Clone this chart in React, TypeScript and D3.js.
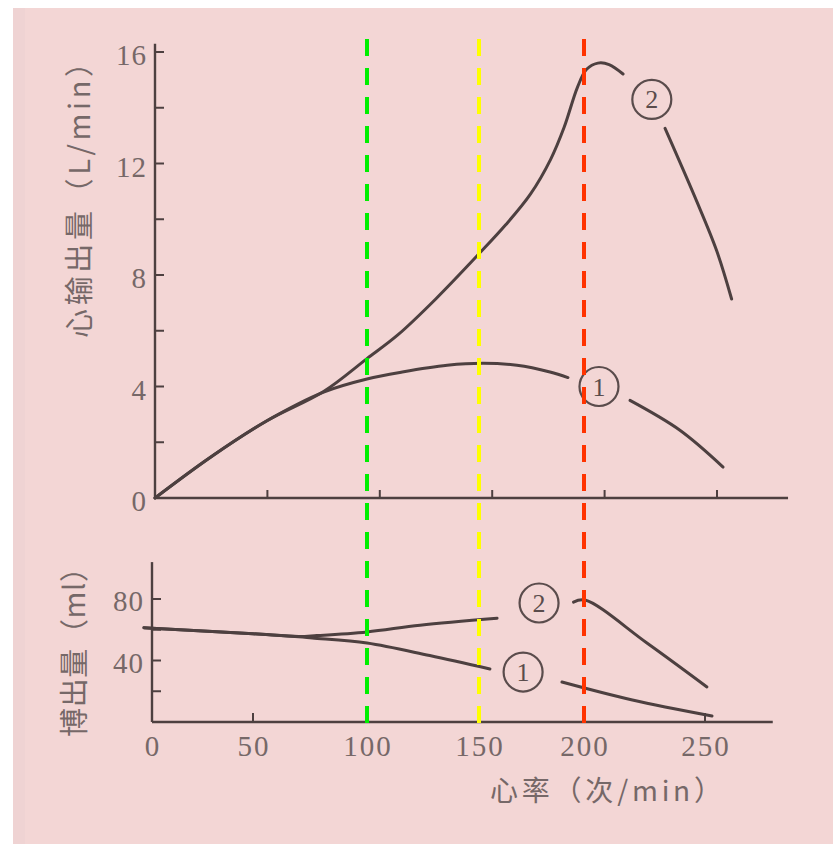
import React from 'react';
import * as d3 from 'd3';

const W = 833;
const H = 844;

// Axis ticks and labels
const rateTicks = [0, 50, 100, 150, 200, 250];
const outputTicks = [0, 4, 8, 12, 16];
const outputMinorTicks = [2, 4, 6, 8, 10, 12, 14, 16];
const strokeTicks = [40, 80];
const strokeMinorTicks = [20, 40, 60, 80];

// Reference heart rates marked with dashed lines
const markerRates = [100, 150, 200];
const markerColors = ['#00ee00', '#ffff00', '#ff3300'];

// Cardiac output (L/min) against heart rate (beats/min)
const output1Left: [number, number][] = [
  [0, 0], [25, 1.48], [50, 2.78], [75, 3.8], [94.3, 4.27],
  [110, 4.52], [130, 4.76], [146, 4.83], [161, 4.76], [175.7, 4.52], [183.7, 4.32],
];
const output1Right: [number, number][] = [
  [211.3, 3.5], [233.5, 2.43], [252.7, 1.11],
];
const output2Left: [number, number][] = [
  [0, 0], [25, 1.48], [50, 2.78], [75, 3.82], [94.3, 5.0],
  [108, 5.85], [125, 7.15], [144, 8.75], [156, 9.8], [167, 10.9], [176, 12.15],
  [182, 13.3], [188, 14.75], [192, 15.38], [197, 15.6], [202, 15.55], [208.2, 15.21],
];
const output2Right: [number, number][] = [
  [226.9, 13.26], [241, 10.64], [249.9, 8.86], [256.5, 7.14],
];

// Stroke volume (ml) against heart rate (beats/min)
const stroke1Left: [number, number][] = [
  [-4, 61.3], [0, 61], [50, 57.4], [70, 55.4], [76, 54.6], [100, 51.4], [128, 43.2], [155.2, 34.5],
];
const stroke1Right: [number, number][] = [
  [189.5, 26], [220, 14.3], [252.9, 3.9],
];
const stroke2Left: [number, number][] = [
  [-4, 61.3], [0, 61], [50, 57.4], [70, 55.6], [78, 56.2], [100, 58.6], [123.7, 63], [158.6, 67.5],
];
const stroke2Right: [number, number][] = [
  [195, 78], [200.4, 79.3], [226, 51.4], [250.8, 22.8],
];

// Circled series numbers: [heart rate, value, number]
const outputTags: [number, number, string][] = [[197.5, 4.0, '1'], [221, 14.3, '2']];
const strokeTags: [number, number, string][] = [[171, 32.5, '1'], [178.6, 77.4, '2']];

const INK = '#4d4040';
const TEXT = '#766868';
const SERIF = '"Liberation Serif", "DejaVu Serif", serif';
const CJK = '"Noto Sans CJK SC", "Noto Sans", sans-serif';

export default function App() {
  // upper panel: cardiac output
  const xTop = d3.scaleLinear().domain([0, 250]).range([155, 717]);
  const yTop = d3.scaleLinear().domain([0, 16]).range([498, 52]);
  // lower panel: stroke volume
  const xBot = d3.scaleLinear().domain([0, 50, 100, 150, 200, 250]).range([152, 253, 367, 479, 584, 705]);
  const yBot = d3.scaleLinear().domain([0, 80]).range([722, 599]);

  const smooth = d3.curveCatmullRom.alpha(0.5);
  const topLine = d3.line<[number, number]>().x(d => xTop(d[0])).y(d => yTop(d[1])).curve(smooth);
  const botLine = d3.line<[number, number]>().x(d => xBot(d[0])).y(d => yBot(d[1])).curve(smooth);

  const topSegments = [output1Left, output1Right, output2Left, output2Right];
  const botSegments = [stroke1Left, stroke1Right, stroke2Left, stroke2Right];

  const tag = (cx: number, cy: number, n: string, key: string) => (
    <g key={key}>
      <circle cx={cx} cy={cy} r={19.5} fill="none" stroke="#5a4c4c" strokeWidth={2.2} />
      <text x={cx} y={cy + 9} textAnchor="middle" fontFamily={SERIF} fontSize={26} fill="#5a4c4c">{n}</text>
    </g>
  );

  return (
    <svg width={W} height={H} style={{ position: 'absolute', left: 0, top: 0, display: 'block' }}>
      <rect x={0} y={0} width={W} height={H} fill="#ffffff" />
      <rect x={13} y={8} width={W - 13} height={H - 8} fill="#f3d6d5" />
      <rect x={13} y={8} width={12} height={H - 8} fill="#efd3d3" />

      {/* upper axes */}
      <line x1={xTop(0)} y1={yTop(0)} x2={xTop(281.6)} y2={yTop(0)} stroke={INK} strokeWidth={2.4} />
      <line x1={xTop(0)} y1={yTop(0)} x2={xTop(0)} y2={yTop(16.3)} stroke={INK} strokeWidth={2.4} />
      {rateTicks.slice(1).map(t => (
        <line key={`tx${t}`} x1={xTop(t)} y1={yTop(0)} x2={xTop(t)} y2={yTop(0) - 8} stroke={INK} strokeWidth={2} />
      ))}
      {outputMinorTicks.map(t => (
        <line key={`ty${t}`} x1={xTop(0)} y1={yTop(t)} x2={xTop(0) + 9} y2={yTop(t)} stroke={INK} strokeWidth={2} />
      ))}
      {outputTicks.map(t => (
        <text key={`tl${t}`} x={147} y={yTop(t) + 13} textAnchor="end" fontFamily={SERIF} fontSize={29} letterSpacing={1} fill={TEXT}>{t}</text>
      ))}

      {/* lower axes */}
      <line x1={xBot(0)} y1={yBot(0)} x2={xBot(278)} y2={yBot(0)} stroke={INK} strokeWidth={2.4} />
      <line x1={xBot(0)} y1={yBot(0)} x2={xBot(0)} y2={yBot(104)} stroke={INK} strokeWidth={2.4} />
      {rateTicks.slice(1).map(t => (
        <line key={`bx${t}`} x1={xBot(t)} y1={yBot(0)} x2={xBot(t)} y2={yBot(0) - 9} stroke={INK} strokeWidth={2} />
      ))}
      {strokeMinorTicks.map(t => (
        <line key={`by${t}`} x1={xBot(0)} y1={yBot(t)} x2={xBot(0) + 9} y2={yBot(t)} stroke={INK} strokeWidth={2} />
      ))}
      {strokeTicks.map(t => (
        <text key={`bl${t}`} x={144} y={yBot(t) + 12} textAnchor="end" fontFamily={SERIF} fontSize={29} letterSpacing={1} fill={TEXT}>{t}</text>
      ))}
      {rateTicks.map(t => (
        <text key={`rl${t}`} x={xBot(t) + 1} y={756} textAnchor="middle" fontFamily={SERIF} fontSize={29} letterSpacing={2} fill={TEXT}>{t}</text>
      ))}

      {/* curves */}
      {topSegments.map((s, i) => (
        <path key={`ts${i}`} d={topLine(s) ?? ''} fill="none" stroke={INK} strokeWidth={3} strokeLinecap="round" />
      ))}
      {botSegments.map((s, i) => (
        <path key={`bs${i}`} d={botLine(s) ?? ''} fill="none" stroke={INK} strokeWidth={3} strokeLinecap="round" />
      ))}
      {outputTags.map(([r, v, n]) => tag(xTop(r), yTop(v), n, `ot${n}`))}
      {strokeTags.map(([r, v, n]) => tag(xBot(r), yBot(v), n, `st${n}`))}

      {/* heart-rate markers */}
      {markerRates.map((r, i) => (
        <line key={`m${r}`} x1={xBot(r)} y1={39} x2={xBot(r)} y2={726} stroke={markerColors[i]} strokeWidth={4} strokeDasharray="17 12" />
      ))}

      {/* axis titles */}
      <text transform="translate(77,193) rotate(-90)" textAnchor="middle" dominantBaseline="central"
        fontFamily={CJK} fontSize={29} fill={TEXT} textLength={290} lengthAdjust="spacing">心输出量（L/min）</text>
      <text transform="translate(72,645) rotate(-90)" textAnchor="middle" dominantBaseline="central"
        fontFamily={CJK} fontSize={29} fill={TEXT} textLength={184} lengthAdjust="spacing">博出量（ml）</text>
      <text x={606} y={789} textAnchor="middle" dominantBaseline="central"
        fontFamily={CJK} fontSize={28} fill={TEXT} textLength={232} lengthAdjust="spacing">心率（次/min）</text>
    </svg>
  );
}
